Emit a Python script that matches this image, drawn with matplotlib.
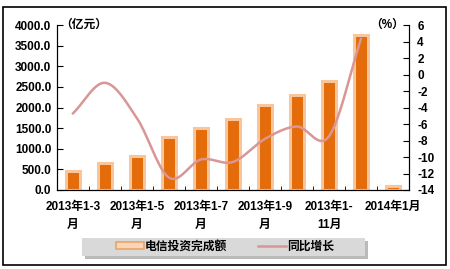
import numpy as np
import matplotlib
matplotlib.use("Agg")
import matplotlib.pyplot as plt
from matplotlib.patches import Patch, Rectangle
from matplotlib.lines import Line2D

plt.rcParams['font.family'] = ['Liberation Sans', 'Noto Sans CJK SC', 'DejaVu Sans']

categories = ["2013年1-3月", "2013年1-4月", "2013年1-5月", "2013年1-6月",
              "2013年1-7月", "2013年1-8月", "2013年1-9月", "2013年1-10月",
              "2013年1-11月", "2013年1-12月", "2014年1月"]
tick_labels = ["2013年1-3\n月", "", "2013年1-5\n月", "", "2013年1-7\n月", "",
               "2013年1-9\n月", "", "2013年1-\n11月", "", "2014年1月\n"]
invest = [460, 650, 820, 1285, 1500, 1720, 2060, 2300, 2640, 3760, 90]
growth = [-4.7, -1.0, -5.3, -12.5, -10.3, -10.6, -7.8, -6.3, -7.5, 4.3]

BAR_FILL = "#E46C0A"
BAR_EDGE = "#F8C69A"
LINE_COL = "#D99694"


def catmull_rom(xs, ys, n=20):
    # smooth curve through points, like a spreadsheet "smoothed line"
    xs = np.asarray(xs, float)
    ys = np.asarray(ys, float)
    px = np.concatenate([[2 * xs[0] - xs[1]], xs, [2 * xs[-1] - xs[-2]]])
    py = np.concatenate([[2 * ys[0] - ys[1]], ys, [2 * ys[-1] - ys[-2]]])
    outx, outy = [], []
    t = np.linspace(0, 1, n)
    for i in range(1, len(px) - 2):
        for p, out in ((px, outx), (py, outy)):
            p0, p1, p2, p3 = p[i - 1], p[i], p[i + 1], p[i + 2]
            out.extend(0.5 * (2 * p1 + (-p0 + p2) * t
                              + (2 * p0 - 5 * p1 + 4 * p2 - p3) * t ** 2
                              + (-p0 + 3 * p1 - 3 * p2 + p3) * t ** 3))
    return np.array(outx), np.array(outy)


fig = plt.figure(figsize=(4.5, 2.69), dpi=100)
fig.patches.append(Rectangle((0.007, 0.015), 0.985, 0.96, transform=fig.transFigure,
                             fill=False, edgecolor="black", linewidth=1.2))
ax = fig.add_axes([0.1267, 0.2937, 0.782, 0.613])
ax2 = ax.twinx()

x = np.arange(len(categories))
ax.bar(x, invest, width=0.44, color=BAR_FILL, edgecolor=BAR_EDGE, linewidth=2.2, zorder=2)
ax.set_xlim(-0.5, len(categories) - 0.5)
ax.set_ylim(0, 4000)
ax.set_yticks(np.arange(0, 4001, 500))
ax.set_yticklabels([f"{v:.1f}" for v in np.arange(0, 4001, 500)], fontsize=8.5, fontweight="bold")
ax.set_xticks(x)
ax.set_xticklabels(tick_labels, fontsize=8.5, fontweight="bold", linespacing=1.6)
ax.set_xticks(np.arange(-0.5, len(categories), 1), minor=True)
ax.tick_params(axis="x", which="major", length=0, pad=8)
ax.tick_params(axis="x", which="minor", direction="in", length=3)
ax.tick_params(axis="y", direction="in", length=4, pad=4)

sx, sy = catmull_rom(x[:len(growth)], growth)
ax2.plot(sx, sy, color=LINE_COL, linewidth=1.8, zorder=3)
ax2.set_ylim(-14, 6)
ax2.set_yticks(np.arange(-14, 7, 2))
ax2.set_yticklabels([str(v) for v in np.arange(-14, 7, 2)], fontsize=8.5, fontweight="bold")
ax2.tick_params(axis="y", direction="in", length=4, pad=6)

for a in (ax, ax2):
    a.spines["top"].set_visible(False)

ax.text(0.01, 1.0, "（亿元）", transform=ax.transAxes, fontsize=8.5, fontweight="bold",
        ha="left", va="center")
ax.text(0.985, 1.0, "（%）", transform=ax.transAxes, fontsize=8.5, fontweight="bold",
        ha="right", va="center")

# legend box with a drop shadow, drawn in figure pixels
W, H = 450, 269
box = (82, H - 256, 283, 18)
fig.patches.append(Rectangle((box[0] + 3, box[1] - 3), box[2], box[3],
                             transform=None, facecolor="#8C8C8C", edgecolor="none", alpha=0.6))
fig.patches.append(Rectangle(box[:2], box[2], box[3], transform=None,
                             facecolor="#D9D9D9", edgecolor="none"))

handles = [Patch(facecolor="#FBD5B5", edgecolor="#E9A46A", linewidth=1.2),
           Line2D([0], [0], color=LINE_COL, linewidth=1.8)]
leg = fig.legend(handles, ["电信投资完成额", "同比增长"], loc="center",
                 bbox_to_anchor=(0.5, (box[1] + box[3] / 2) / H), ncol=2,
                 prop={"weight": "bold", "size": 8.5}, frameon=False,
                 handlelength=2.4, handleheight=0.55, columnspacing=2.6,
                 borderpad=0.2, handletextpad=0.1)

fig.savefig("out.png", dpi=100)
